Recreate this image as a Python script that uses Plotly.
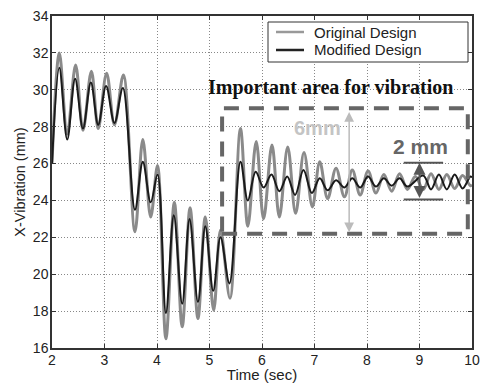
import plotly.graph_objects as go

# ---- data (peaks / troughs of each response) ----
t_orig = [2.00, 2.14, 2.29, 2.45, 2.59, 2.75, 2.88, 3.04, 3.19, 3.36,
          3.58, 3.73, 3.88, 4.01, 4.17, 4.33, 4.48, 4.63, 4.78, 4.92,
          5.08, 5.21, 5.39, 5.59, 5.73, 5.89, 6.03, 6.19, 6.33, 6.49,
          6.64, 6.80, 6.96, 7.10, 7.25, 7.41, 7.57, 7.72, 7.87, 8.02,
          8.17, 8.32, 8.47, 8.62, 8.77, 8.92, 9.07, 9.22, 9.37, 9.52,
          9.67, 9.82, 9.97, 10.00]
y_orig = [26.0, 32.0, 27.6, 31.35, 27.8, 31.0, 27.9, 30.9, 28.1, 30.8,
          22.3, 27.3, 23.1, 25.9, 16.5, 23.9, 17.15, 23.6, 17.6, 23.1,
          18.05, 22.4, 18.7, 27.9, 22.6, 27.2, 23.0, 27.0, 23.1, 26.9,
          23.3, 26.6, 23.65, 26.1, 24.1, 25.75, 24.2, 25.65, 24.3, 25.6,
          24.4, 25.4, 24.5, 25.45, 24.6, 25.3, 24.6, 25.45, 24.6, 25.4,
          24.65, 25.35, 24.8, 24.85]

t_mod = [2.00, 2.14, 2.29, 2.44, 2.59, 2.74, 2.88, 3.03, 3.19, 3.35,
         3.58, 3.73, 3.88, 4.01, 4.17, 4.32, 4.48, 4.62, 4.78, 4.92,
         5.07, 5.21, 5.38, 5.59, 5.73, 5.88, 6.03, 6.18, 6.33, 6.48,
         6.63, 6.79, 6.95, 7.10, 7.25, 7.41, 7.57, 7.72, 7.87, 8.02,
         8.17, 8.32, 8.47, 8.62, 8.77, 9.07, 9.22, 9.37, 9.52, 9.67,
         9.82, 9.97, 10.00]
y_mod = [26.0, 31.2, 27.3, 30.6, 27.9, 30.4, 28.1, 30.2, 28.2, 30.1,
         23.5, 26.1, 23.9, 25.4, 17.9, 23.2, 18.4, 23.0, 18.5, 22.6,
         19.1, 22.0, 19.5, 26.1, 24.0, 25.55, 24.7, 25.4, 24.5, 25.3,
         24.3, 25.65, 24.4, 25.2, 24.55, 25.1, 24.7, 25.2, 24.7, 25.3,
         24.75, 25.2, 24.8, 25.2, 24.75, 25.35, 24.6, 25.4, 24.6, 25.4,
         24.65, 25.3, 25.25]

series_names = ["Original Design", "Modified Design"]
series_colors = ["#8a8a8a", "#1a1a1a"]
x_ticks = [2, 3, 4, 5, 6, 7, 8, 9, 10]
y_ticks = [16, 18, 20, 22, 24, 26, 28, 30, 32, 34]

# annotation geometry (data units)
area_box = dict(x0=5.24, x1=9.92, y0=22.2, y1=29.0)
six_mm = dict(x=7.66, y_top=28.8, y_bot=22.2)
two_mm = dict(x=9.0, x0=8.70, x1=9.45, y_top=26.05, y_bot=24.05)

FONT = "Arial, Liberation Sans, sans-serif"

# target plot area in page px (body margin removed below)
PL, PR, PT, PB = 52, 472, 16, 348
W, H = 480, 383


def px_x(p):
    return (p - PL) / (PR - PL)


def px_y(p):
    return 1 - (p - PT) / (PB - PT)


fig = go.Figure()
fig.add_trace(go.Scatter(x=t_orig, y=y_orig, name=series_names[0], mode="lines",
                         line=dict(color=series_colors[0], width=3, shape="spline", smoothing=1.0)))
fig.add_trace(go.Scatter(x=t_mod, y=y_mod, name=series_names[1], mode="lines",
                         line=dict(color=series_colors[1], width=2, shape="spline", smoothing=1.0)))

axis_common = dict(showgrid=True, gridcolor="#888", gridwidth=1, griddash="1px,2px",
                   showline=True, linecolor="#333", linewidth=1.5, mirror="ticks",
                   ticks="inside", ticklen=4, tickcolor="#333", zeroline=False,
                   tickfont=dict(family=FONT, size=14, color="#222"),
                   ticklabeloverflow="allow", automargin=False)

fig.update_layout(
    width=W, height=H,
    margin=dict(l=PL, r=W - PR, t=PT, b=H - PB),
    paper_bgcolor="white", plot_bgcolor="white",
    showlegend=False,
    xaxis=dict(range=[2, 10], tickvals=x_ticks, ticklabelstandoff=-2,
               title=dict(text="Time (sec)", standoff=0,
                          font=dict(family=FONT, size=15, color="#222")),
               **axis_common),
    yaxis=dict(range=[16, 34], tickvals=y_ticks, ticklabelstandoff=-1,
               title=dict(text="X-Vibration (mm)", standoff=4,
                          font=dict(family=FONT, size=14.5, color="#222")),
               **axis_common),
)

# legend box drawn by hand (lines + labels)
fig.add_shape(type="rect", xref="paper", yref="paper",
              x0=px_x(268), x1=px_x(468), y0=px_y(62), y1=px_y(22),
              line=dict(color="#333", width=1), fillcolor="white", layer="above")
legend_rows = [32, 50]
legend_line_colors = ["#999", "#222"]
for name, col, row in zip(series_names, legend_line_colors, legend_rows):
    fig.add_shape(type="line", xref="paper", yref="paper",
                  x0=px_x(276), x1=px_x(304), y0=px_y(row), y1=px_y(row),
                  line=dict(color=col, width=2.5), layer="above")
    fig.add_annotation(x=px_x(312), y=px_y(row), xref="paper", yref="paper", text=name,
                       showarrow=False, xanchor="left", yanchor="middle",
                       font=dict(family=FONT, size=15, color="#222"))

# dashed "important area" box
fig.add_shape(type="rect", xref="x", yref="y", **area_box,
              line=dict(color="#666", width=4, dash="15px,10px"), layer="above")

# 2 mm markers
for yy in (two_mm["y_top"], two_mm["y_bot"]):
    fig.add_shape(type="line", xref="x", yref="y", x0=two_mm["x0"], x1=two_mm["x1"], y0=yy, y1=yy,
                  line=dict(color="#555", width=2), layer="above")

fig.add_annotation(x=two_mm["x"], y=two_mm["y_top"], ax=two_mm["x"], ay=two_mm["y_bot"],
                   xref="x", yref="y", axref="x", ayref="y", text="", showarrow=True,
                   arrowhead=2, startarrowhead=2, arrowside="end+start", arrowsize=1.2,
                   arrowwidth=2, arrowcolor="#555")
fig.add_annotation(x=six_mm["x"], y=six_mm["y_top"], ax=six_mm["x"], ay=six_mm["y_bot"],
                   xref="x", yref="y", axref="x", ayref="y", text="", showarrow=True,
                   arrowhead=2, startarrowhead=2, arrowside="end+start", arrowsize=1.3,
                   arrowwidth=1.5, arrowcolor="#bbb")

fig.add_annotation(x=7.305, y=30.1, xref="x", yref="y", text="<b>Important area for vibration</b>",
                   showarrow=False, font=dict(family="Liberation Serif, Times New Roman, serif",
                                              size=20, color="#111"))
fig.add_annotation(x=7.057, y=27.93, xref="x", yref="y", text="<b>6mm</b>", showarrow=False,
                   font=dict(family=FONT, size=20, color="#c4c4c4"))
fig.add_annotation(x=9.02, y=26.9, xref="x", yref="y", text="<b>2 mm</b>", showarrow=False,
                   font=dict(family=FONT, size=21, color="#666"))

fig.write_html("out.html", config={"displayModeBar": False},
               post_script="document.body.style.margin='0';document.body.style.overflow='hidden';")
